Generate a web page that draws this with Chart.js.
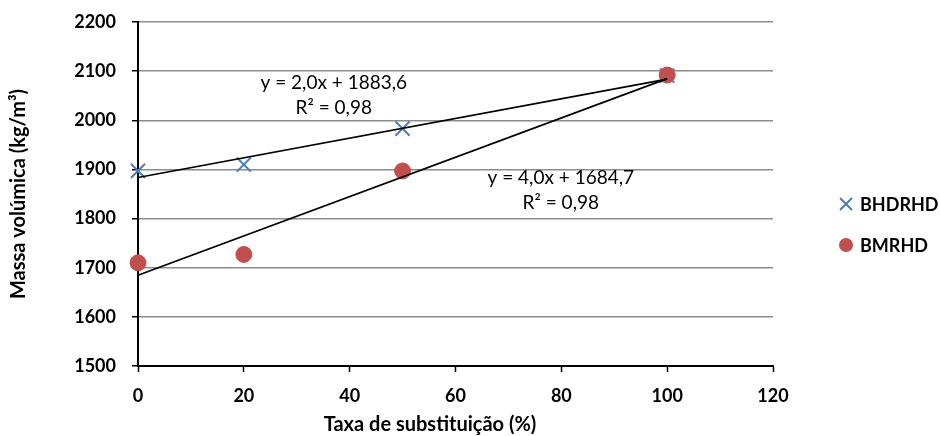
<!DOCTYPE html>
<html>
<head>
<meta charset="utf-8">
<script src="https://cdn.jsdelivr.net/npm/chart.js@4/dist/chart.umd.min.js"></script>
<style>
  body { margin: 0; background: #fff; }
</style>
</head>
<body>
<canvas id="chart" width="940" height="436"></canvas>
<script>
// data
var taxa = [0, 20, 50, 100];
var bhdrhd = [1897, 1910, 1983, 2091];
var bmrhd = [1710, 1727, 1897, 2092];

// trend lines (from the equations shown on the chart)
var trendX = [0, 100];
var trendBHDRHD = [1883.6, 2083.6];
var trendBMRHD = [1684.7, 2084.7];

var xTicks = [0, 20, 40, 60, 80, 100, 120];
var yTicks = [1500, 1600, 1700, 1800, 1900, 2000, 2100, 2200];

var labels = [
  { x: 37.0, y: 2076, text: 'y = 2,0x + 1883,6' },
  { x: 37.0, y: 2025, text: 'R² = 0,98' },
  { x: 79.9, y: 1882, text: 'y = 4,0x + 1684,7' },
  { x: 79.9, y: 1831, text: 'R² = 0,98' }
];

function pts(xs, ys) {
  return xs.map(function (x, i) { return { x: x, y: ys[i] }; });
}

var blue = '#4a7ebb';
var red = '#c0504d';
var fontName = 'Lato';

var extras = {
  id: 'extras',
  afterDraw: function (chart) {
    var ctx = chart.ctx;
    var xs = chart.scales.x, ys = chart.scales.y;
    ctx.save();
    // equation labels
    ctx.fillStyle = '#000';
    ctx.font = '19px ' + fontName;
    ctx.textAlign = 'center';
    ctx.textBaseline = 'middle';
    labels.forEach(function (l) {
      ctx.fillText(l.text, xs.getPixelForValue(l.x), ys.getPixelForValue(l.y));
    });

    // x axis title
    ctx.font = 'bold 20px ' + fontName;
    ctx.fillText('Taxa de substituição (%)', 430, 425);

    // legend
    var lx = 846;
    ctx.strokeStyle = blue;
    ctx.lineWidth = 2;
    ctx.beginPath();
    ctx.moveTo(lx - 6, 198); ctx.lineTo(lx + 6, 210);
    ctx.moveTo(lx + 6, 198); ctx.lineTo(lx - 6, 210);
    ctx.stroke();
    ctx.fillStyle = red;
    ctx.beginPath();
    ctx.arc(lx, 245, 7, 0, Math.PI * 2);
    ctx.fill();
    ctx.fillStyle = '#000';
    ctx.textAlign = 'left';
    ctx.font = 'bold 18px ' + fontName;
    ctx.fillText('BHDRHD', 860, 205);
    ctx.fillText('BMRHD', 860, 246);
    ctx.restore();
  }
};

var tickFont = { family: fontName, size: 18, weight: 'bold' };
function plain(v) { return String(v); }

new Chart(document.getElementById('chart'), {
  type: 'scatter',
  data: {
    datasets: [{
      type: 'line',
      label: 'Linear (BHDRHD)',
      data: pts(trendX, trendBHDRHD),
      borderColor: '#000',
      borderWidth: 1.75,
      pointRadius: 0,
      fill: false,
      clip: false,
      order: 0
    }, {
      type: 'line',
      label: 'Linear (BMRHD)',
      data: pts(trendX, trendBMRHD),
      borderColor: '#000',
      borderWidth: 1.75,
      pointRadius: 0,
      fill: false,
      clip: false,
      order: 0
    }, {
      label: 'BMRHD',
      data: pts(taxa, bmrhd),
      pointStyle: 'circle',
      pointRadius: 8,
      backgroundColor: red,
      borderColor: red,
      borderWidth: 1,
      clip: false,
      order: 1
    }, {
      label: 'BHDRHD',
      data: pts(taxa, bhdrhd),
      pointStyle: 'crossRot',
      pointRadius: 10,
      borderColor: blue,
      backgroundColor: blue,
      borderWidth: 2,
      clip: false,
      order: 2
    }]
  },
  options: {
    responsive: false,
    animation: false,
    layout: { padding: { top: 22, right: 167, left: 0, bottom: 0 } },
    plugins: {
      legend: { display: false },
      tooltip: { enabled: false }
    },
    scales: {
      x: {
        type: 'linear',
        min: 0,
        max: 120,
        afterBuildTicks: function (s) { s.ticks = xTicks.map(function (v) { return { value: v }; }); },
        afterFit: function (s) { s.height = 70; },
        ticks: { color: '#000', padding: 13, font: tickFont, callback: plain },
        grid: { drawOnChartArea: false, tickLength: 6, tickColor: '#000', tickWidth: 1.5 },
        border: { color: '#000', width: 2 }
      },
      y: {
        min: 1500,
        max: 2200,
        afterBuildTicks: function (s) { s.ticks = yTicks.map(function (v) { return { value: v }; }); },
        afterFit: function (s) { s.width = 138; s.paddingTop = 0; s.paddingBottom = 0; },
        ticks: { color: '#000', padding: 16, font: tickFont, callback: plain },
        grid: { color: '#8c8c8c', lineWidth: 1.5, tickLength: 6, tickColor: '#000', tickWidth: 1.5 },
        border: { color: '#000', width: 2 },
        title: {
          display: true,
          text: 'Massa volúmica (kg/m³)',
          color: '#000',
          font: { family: fontName, size: 20, weight: 'bold' },
          padding: { top: 7, bottom: 0 }
        }
      }
    }
  },
  plugins: [extras]
});
</script>
</body>
</html>
